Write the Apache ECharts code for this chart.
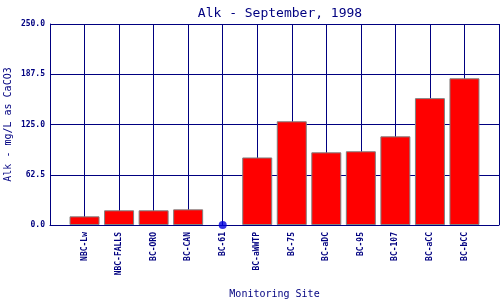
<!DOCTYPE html>
<html><head><meta charset="utf-8">
<script src="https://cdn.jsdelivr.net/npm/echarts@6/dist/echarts.min.js"></script>
<style>html,body{margin:0;padding:0;background:#fff}#c{width:500px;height:300px}</style>
</head><body><div id="c"></div>
<script>
const sites = ['NBC-Lw','NBC-FALLS','BC-ORO','BC-CAN','BC-61','BC-aWWTP','BC-75','BC-aDC','BC-95','BC-107','BC-aCC','BC-bCC'];
const alk = [10.8, 18.3, 18.3, 19.5, 0, 84, 129, 90.4, 91.7, 110.3, 157.8, 182.5];
const yTicks = [0, 62.5, 125, 187.5, 250];

const navy = '#000080';
const mono = 'DejaVu Sans Mono';
const cats = [''].concat(sites, ['']);
const barData = [null].concat(alk.map(v => v === 0 ? null : v), [null]);
const dotData = [null].concat(alk.map(v => v === 0 ? 0 : null), [null]);

const chart = echarts.init(document.getElementById('c'), null, {renderer: 'canvas'});
chart.setOption({
  animation: false,
  backgroundColor: '#fff',
  title: {text: 'Alk - September, 1998', left: 275, textAlign: 'center', top: 2,
    textStyle: {fontFamily: mono, fontSize: 13, fontWeight: 'normal', color: navy}},
  grid: {left: 50, right: 1, top: 24, bottom: 75, containLabel: false, outerBoundsMode: 'none'},
  xAxis: {
    type: 'category', data: cats, boundaryGap: false,
    name: 'Monitoring Site', nameLocation: 'middle', nameGap: 64, nameMoveOverlap: false,
    nameTextStyle: {fontFamily: mono, fontSize: 10, color: navy},
    axisLine: {lineStyle: {color: navy, width: 1}},
    axisTick: {show: false},
    axisLabel: {rotate: 90, fontFamily: mono, fontSize: 8, fontWeight: 'bold', color: navy, margin: 7, interval: 0},
    splitLine: {show: true, lineStyle: {color: navy, width: 1}}
  },
  yAxis: {
    type: 'value', min: 0, max: 250, interval: 62.5,
    name: 'Alk - mg/L as CaCO3', nameLocation: 'middle', nameGap: 37, nameRotate: 90, nameMoveOverlap: false,
    nameTextStyle: {fontFamily: mono, fontSize: 10, color: navy},
    axisLine: {show: true, lineStyle: {color: navy, width: 1}},
    axisTick: {show: false},
    axisLabel: {fontFamily: mono, fontSize: 8, fontWeight: 'bold', color: navy, margin: 5,
      formatter: v => yTicks.indexOf(v) >= 0 ? v.toFixed(1) : ''},
    splitLine: {show: true, lineStyle: {color: navy, width: 1}}
  },
  series: [
    {type: 'bar', data: barData, barWidth: 30,
      itemStyle: {color: '#ff0000', borderColor: '#808080', borderWidth: 1}},
    {type: 'scatter', data: dotData, symbol: 'circle', symbolSize: 8,
      itemStyle: {color: '#0000dd'}, z: 5}
  ]
});
</script></body></html>
